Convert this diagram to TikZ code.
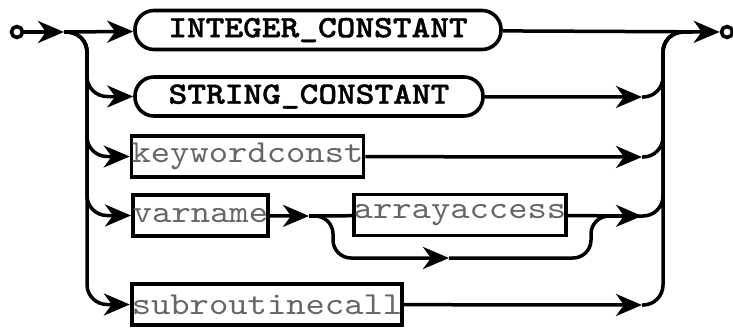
\documentclass[tikz,border=0pt]{standalone}
\usepackage{fontspec}
% slab-serif monospace faces for the syntax boxes
\newfontfamily\ntfont{lmmono10-regular.otf}[FakeStretch=1.15]
\newfontfamily\tmfont{lmmonolt10-bold.otf}[FakeStretch=1.15,FakeBold=1.2]
\usetikzlibrary{arrows.meta}
\begin{document}
\begin{tikzpicture}[x=1pt,y=-1pt,
  line/.style={line width=3.5pt},
  flow/.style={line, -{Stealth[length=26pt,width=22pt,inset=8pt]}},
  term/.style={draw, line width=3.6pt, rounded corners=19pt, inner sep=0pt,
    minimum height=39pt, font=\tmfont\fontsize{31}{31}\selectfont},
  nonterm/.style={draw, line width=3.8pt, inner sep=0pt, minimum height=41pt,
    text=black!60, font=\ntfont\fontsize{32}{32}\selectfont},
  dot/.style={circle, draw, line width=3.6pt, minimum size=11pt, inner sep=0pt}]
\useasboundingbox (0,0) rectangle (733,329);

% entry and exit
\node[dot] (s) at (17,32) {};
\node[dot] (e) at (727,32) {};

% alternatives
\node[term, minimum width=366pt] (int) at (318,30) {INTEGER\_CONSTANT};
\node[term, minimum width=348pt] (str) at (309,96.5) {STRING\_CONSTANT};
\node[nonterm, minimum width=225pt] (kw) at (247.5,156.5) {keywordconst};
\node[nonterm, minimum width=131pt] (var) at (200.5,215.5) {varname};
\node[nonterm, minimum width=210pt] (acc) at (460,215) {arrayaccess};
\node[nonterm, minimum width=264pt] (sub) at (267,304.5) {subroutinecall};

% junction points
\coordinate (j0) at (64,32);
\coordinate (lr) at (87,32);
\coordinate (rr) at (663,32);
\coordinate (jr) at (692,32);
\coordinate (a2) at (642,97);
\coordinate (a3) at (642,157);
\coordinate (a4) at (642,216);
\coordinate (a5) at (642,305);
\coordinate (j2) at (309,216);
\coordinate (bd) at (333,258);
\coordinate (b1) at (449,258);
\coordinate (bu) at (591,216);

% entry rail
\draw[flow] (s) -- (j0);
\draw[flow] (j0) -- (int);
\draw[flow, rounded corners=20pt] (j0) -- (lr) |- (str);
\draw[flow, rounded corners=20pt] (j0) -- (lr) |- (kw);
\draw[flow, rounded corners=20pt] (j0) -- (lr) |- (var);
\draw[flow, rounded corners=20pt] (j0) -- (lr) |- (sub);

% rows
\draw[flow] (int) -- (e);
\draw[flow] (str) -- (a2);
\draw[flow] (kw) -- (a3);
\draw[flow] (var) -- (j2);
\draw[line] (j2) -- (acc);
\draw[flow] (acc) -- (a4);
\draw[flow, rounded corners=18pt] (j2) -| (bd) -- (b1);
\draw[line, rounded corners=18pt] (b1) -| (bu) -- (a4);
\draw[flow] (sub) -- (a5);

% exit rail
\draw[line, rounded corners=20pt] (a2) -| (rr) -- (jr);
\draw[line, rounded corners=20pt] (a3) -| (rr) -- (jr);
\draw[line, rounded corners=20pt] (a4) -| (rr) -- (jr);
\draw[line, rounded corners=20pt] (a5) -| (rr) -- (jr);
\end{tikzpicture}
\end{document}
